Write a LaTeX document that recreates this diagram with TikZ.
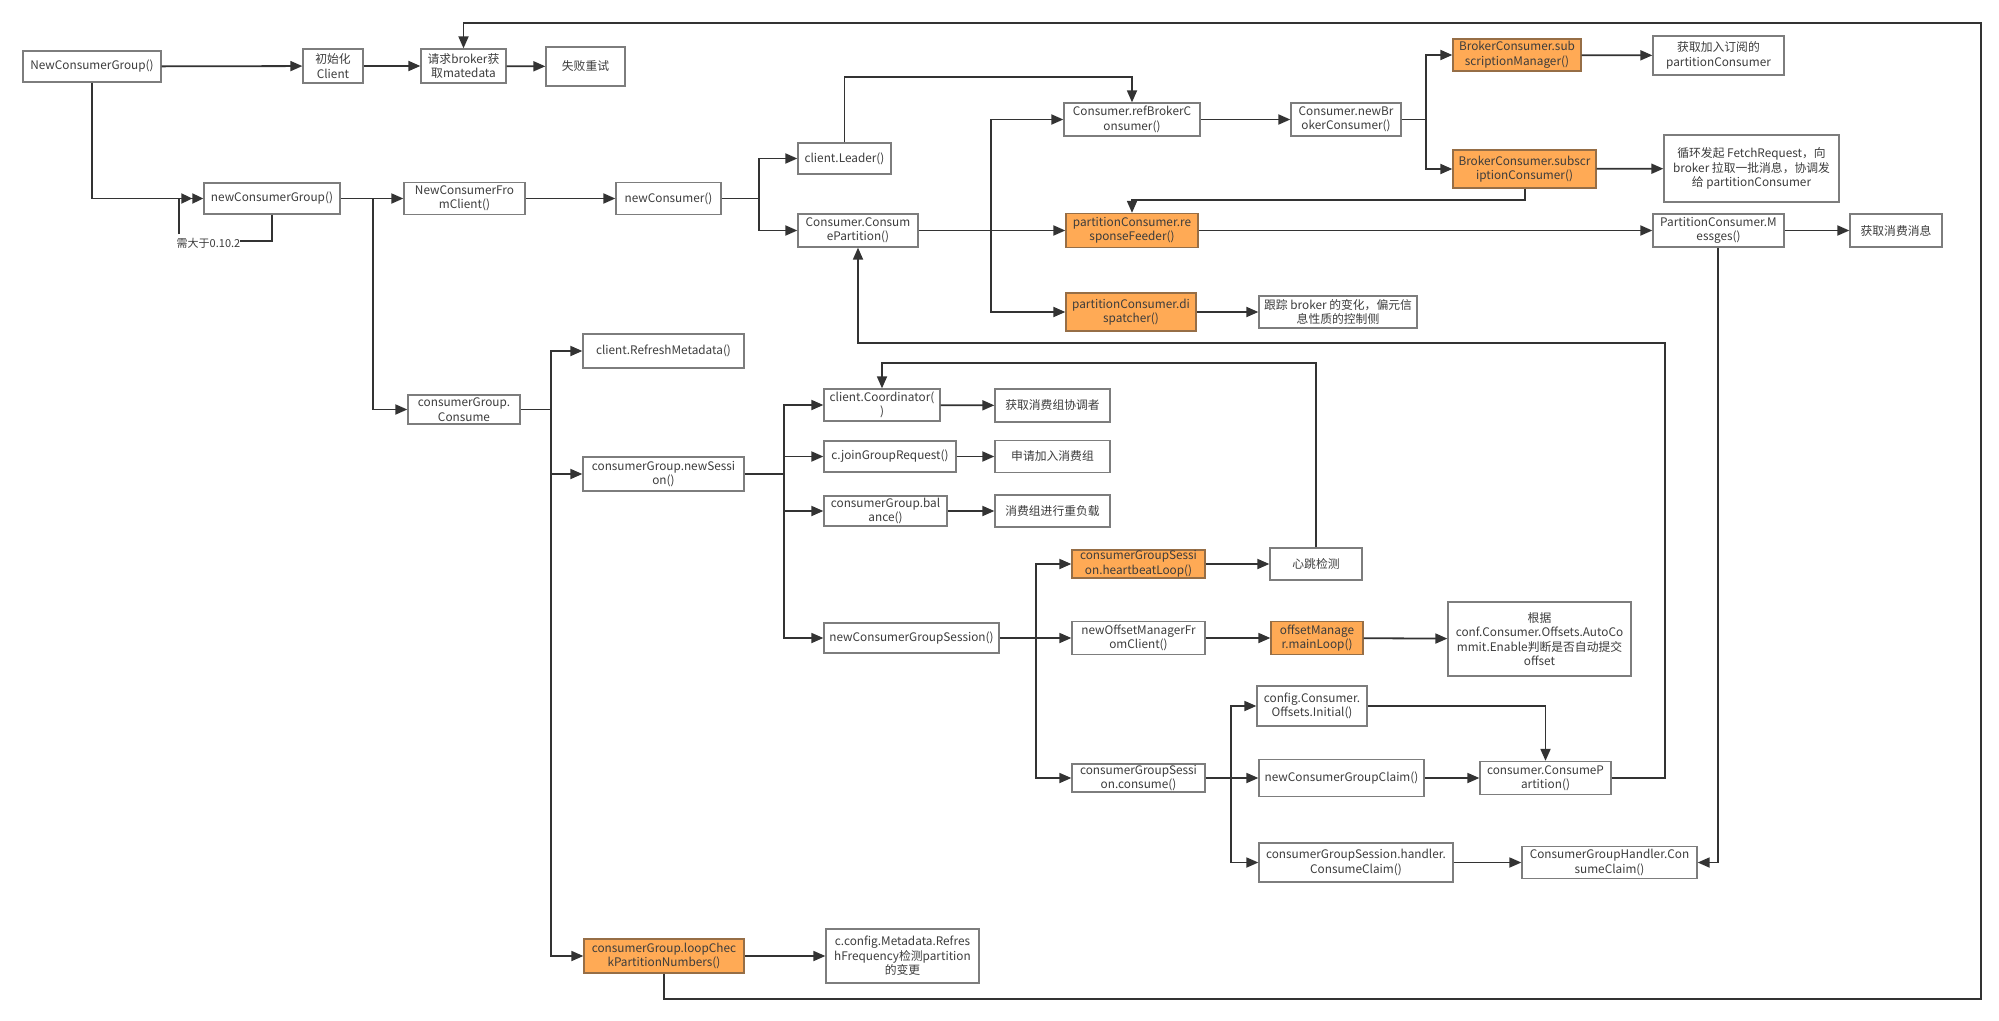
\documentclass[tikz,border=0pt]{standalone}
\usepackage{fontspec}
\setmainfont{Noto Sans CJK SC}
\usetikzlibrary{arrows.meta}
\definecolor{lineC}{RGB}{51,51,51}
\definecolor{boxC}{RGB}{125,125,125}
\definecolor{txtC}{RGB}{60,60,60}
\definecolor{orC}{RGB}{255,170,85}
\definecolor{orB}{RGB}{150,110,70}
\begin{document}
\begin{tikzpicture}[x=1pt,y=-1pt,
  bx/.style={draw=boxC, line width=1.3pt, fill=white, text=txtC, inner sep=0pt, align=center,
    font=\fontsize{11.8pt}{14.5pt}\selectfont},
  ob/.style={bx, fill=orC, draw=orB},
  ln/.style={draw=lineC, line width=1.8pt},
  ar/.style={ln, -{Triangle[length=12pt,width=10pt]}},
  ar2/.style={ln, -{Triangle[length=11pt,width=10pt]Triangle[length=11pt,width=10pt]}}]
\useasboundingbox (0,0) rectangle (1999,1020);
\fill[white] (0,0) rectangle (1999,1020);

% ---- nodes ----
\node[bx,minimum width=138pt,minimum height=31pt] (ncg) at (92,66.5) {NewConsumerGroup()};
\node[bx,minimum width=60pt,minimum height=34pt] (init) at (333,66) {初始化\\Client};
\node[bx,minimum width=85pt,minimum height=34pt] (req) at (463.5,66) {请求broker获\\取matedata};
\node[bx,minimum width=79pt,minimum height=39pt] (retry) at (585.5,66.5) {失败重试};
\node[bx,minimum width=136pt,minimum height=31pt] (ncg2) at (272,198.5) {newConsumerGroup()};
\node[bx,minimum width=121pt,minimum height=32pt] (ncfc) at (464.5,198.5) {NewConsumerFro\\mClient()};
\node[bx,minimum width=105pt,minimum height=32pt] (nc) at (668.5,198.5) {newConsumer()};
\node[bx,minimum width=93pt,minimum height=31pt] (leader) at (844.5,158.5) {client.Leader()};
\node[bx,minimum width=120pt,minimum height=33pt] (cpart) at (858,230.5) {Consumer.Consum\\ePartition()};
\node[bx,minimum width=136pt,minimum height=33pt] (refbc) at (1132,119.5) {Consumer.refBrokerC\\onsumer()};
\node[bx,minimum width=110pt,minimum height=33pt] (newbc) at (1346,119.5) {Consumer.newBr\\okerConsumer()};
\node[ob,minimum width=128pt,minimum height=32pt] (subman) at (1517,55) {BrokerConsumer.sub\\scriptionManager()};
\node[bx,minimum width=131pt,minimum height=39pt] (submanN) at (1718.5,55.5) {获取加入订阅的\\partitionConsumer};
\node[ob,minimum width=143pt,minimum height=38pt] (subcons) at (1524.5,169) {BrokerConsumer.subscr\\iptionConsumer()};
\node[bx,minimum width=175pt,minimum height=67pt] (fetchN) at (1751.5,168.5) {循环发起 FetchRequest，向\\broker 拉取一批消息，协调发\\给 partitionConsumer};
\node[ob,minimum width=132pt,minimum height=34pt] (feeder) at (1132,230.5) {partitionConsumer.re\\sponseFeeder()};
\node[ob,minimum width=130pt,minimum height=38pt] (disp) at (1131,312) {partitionConsumer.di\\spatcher()};
\node[bx,minimum width=158pt,minimum height=32pt] (track) at (1338,312) {跟踪 broker 的变化，偏元信\\息性质的控制侧};
\node[bx,minimum width=131pt,minimum height=33pt] (msgs) at (1718.5,230.5) {PartitionConsumer.M\\essges()};
\node[bx,minimum width=92pt,minimum height=33pt] (getmsg) at (1896,230.5) {获取消费消息};

\node[bx,minimum width=112pt,minimum height=29pt] (consume) at (464,409.5) {consumerGroup.\\Consume};
\node[bx,minimum width=161pt,minimum height=34pt] (refresh) at (663.5,351) {client.RefreshMetadata()};
\node[bx,minimum width=161pt,minimum height=34pt] (newsess) at (663.5,474) {consumerGroup.newSessi\\on()};
\node[bx,minimum width=116pt,minimum height=32pt] (coord) at (882,405) {client.Coordinator(\\)};
\node[bx,minimum width=115pt,minimum height=33pt] (coordN) at (1052.5,405.5) {获取消费组协调者};
\node[bx,minimum width=132pt,minimum height=31pt] (join) at (890,456.5) {c.joinGroupRequest()};
\node[bx,minimum width=115pt,minimum height=32pt] (joinN) at (1052.5,456.5) {申请加入消费组};
\node[bx,minimum width=123pt,minimum height=30pt] (bal) at (885.5,511) {consumerGroup.bal\\ance()};
\node[bx,minimum width=115pt,minimum height=32pt] (balN) at (1052.5,511) {消费组进行重负载};
\node[bx,minimum width=175pt,minimum height=30pt] (ncgs) at (911.5,638) {newConsumerGroupSession()};
\node[ob,minimum width=133pt,minimum height=28pt] (hb) at (1138.5,564) {consumerGroupSessi\\on.heartbeatLoop()};
\node[bx,minimum width=92pt,minimum height=32pt] (hbN) at (1316,564) {心跳检测};
\node[bx,minimum width=133pt,minimum height=33pt] (nom) at (1138.5,638) {newOffsetManagerFr\\omClient()};
\node[ob,minimum width=92pt,minimum height=33pt] (oml) at (1317,638) {offsetManage\\r.mainLoop()};
\node[bx,minimum width=183pt,minimum height=74pt] (omlN) at (1539.5,639) {根据\\conf.Consumer.Offsets.AutoCo\\mmit.Enable判断是否自动提交\\offset};
\node[bx,minimum width=133pt,minimum height=28pt] (cgsc) at (1138.5,778) {consumerGroupSessi\\on.consume()};
\node[bx,minimum width=110pt,minimum height=40pt] (ini) at (1312,706) {config.Consumer.\\Offsets.Initial()};
\node[bx,minimum width=165pt,minimum height=37pt] (claim) at (1341.5,778) {newConsumerGroupClaim()};
\node[bx,minimum width=131pt,minimum height=33pt] (cp2) at (1545.5,778) {consumer.ConsumeP\\artition()};
\node[bx,minimum width=194pt,minimum height=39pt] (hcc) at (1356,862.5) {consumerGroupSession.handler.\\ConsumeClaim()};
\node[bx,minimum width=175pt,minimum height=32pt] (cghcc) at (1609.5,862.5) {ConsumerGroupHandler.Con\\sumeClaim()};
\node[ob,minimum width=160pt,minimum height=34pt] (loop) at (664,956) {consumerGroup.loopChec\\kPartitionNumbers()};
\node[bx,minimum width=153pt,minimum height=54pt] (loopN) at (902.5,956) {c.config.Metadata.Refres\\hFrequency检测partition\\的变更};
\node[text=txtC, inner sep=0pt, font=\fontsize{11pt}{13pt}\selectfont] (lbl) at (208.5,243) {需大于0.10.2};

% ---- junction coordinates ----
\coordinate (jA) at (373,198.5);
\coordinate (jB) at (759,198.5);
\coordinate (jC) at (991,230.5);
\coordinate (jD) at (1426,119.5);
\coordinate (jE) at (551,409.5);
\coordinate (jF) at (784,474);
\coordinate (jG) at (1036,638);
\coordinate (jH) at (1231,778);
\coordinate (lp1) at (272,241);
\coordinate (lp2) at (179,234);
\coordinate (up1) at (844.5,77);
\coordinate (sc1) at (1525,200);
\coordinate (hb1) at (1316,363);
\coordinate (cp1) at (1665,343);
\coordinate (ms1) at (1718,862.5);
\coordinate (fr1) at (1981,999);
\coordinate (fr2) at (1981,23);

% ---- connectors ----
\draw[ar] (ncg) -- (init);
\draw[ar] (init) -- (req);
\draw[ar] (req) -- (retry);
\draw[ar2] (ncg.south) |- (ncg2.west);
\draw[ln] (ncg2.south) -- (lp1) -- (lbl.east |- lp1);
\draw[ln] (lp2) -- (lp2 |- ncg2.west);
\draw[ar] (ncg2) -- (ncfc);
\draw[ar] (jA) |- (consume.west);
\draw[ar] (ncfc) -- (nc);
\draw[ln] (nc.east) -- (jB);
\draw[ar] (jB) |- (leader.west);
\draw[ar] (jB) |- (cpart.west);
\draw[ar] (leader.north) -- (up1) -| (refbc.north);
\draw[ln] (cpart.east) -- (jC);
\draw[ar] (jC) |- (refbc.west);
\draw[ar] (jC) -- (feeder.west);
\draw[ar] (jC) |- (disp.west);
\draw[ar] (refbc) -- (newbc);
\draw[ln] (newbc.east) -- (jD);
\draw[ar] (jD) |- (subman.west);
\draw[ar] (jD) |- (subcons.west);
\draw[ar] (subman) -- (submanN);
\draw[ar] (subcons) -- (fetchN);
\draw[ar] (subcons.south -| sc1) -- (sc1) -| (feeder.north);
\draw[ar] (feeder) -- (msgs);
\draw[ar] (disp) -- (track);
\draw[ar] (msgs) -- (getmsg);
\draw[ar] (msgs.south -| ms1) -- (ms1) -- (cghcc.east);

\draw[ln] (consume.east) -- (jE);
\draw[ar] (jE) |- (refresh.west);
\draw[ar] (jE) |- (newsess.west);
\draw[ar] (jE) |- (loop.west);
\draw[ln] (newsess.east) -- (jF);
\draw[ar] (jF) |- (coord.west);
\draw[ar] (jF) |- (join.west);
\draw[ar] (jF) |- (bal.west);
\draw[ar] (jF) |- (ncgs.west);
\draw[ar] (coord) -- (coordN);
\draw[ar] (join) -- (joinN);
\draw[ar] (bal) -- (balN);
\draw[ar] (hbN.north) -- (hb1) -| (coord.north);
\draw[ln] (ncgs.east) -- (jG);
\draw[ar] (jG) |- (hb.west);
\draw[ar] (jG) -- (nom.west);
\draw[ar] (jG) |- (cgsc.west);
\draw[ar] (hb) -- (hbN);
\draw[ar] (nom) -- (oml);
\draw[ar] (oml) -- (omlN);
\draw[ln] (cgsc.east) -- (jH);
\draw[ar] (jH) |- (ini.west);
\draw[ar] (jH) -- (claim.west);
\draw[ar] (jH) |- (hcc.west);
\draw[ar] (ini.east) -| (cp2.north);
\draw[ar] (claim) -- (cp2);
\draw[ar] (hcc) -- (cghcc);
\draw[ar] (cp2.east) -| (cp1) -| (cpart.south);
\draw[ar] (loop) -- (loopN);
\draw[ar] (loop.south) |- (fr1) -- (fr2) -| (req.north);
\end{tikzpicture}
\end{document}
